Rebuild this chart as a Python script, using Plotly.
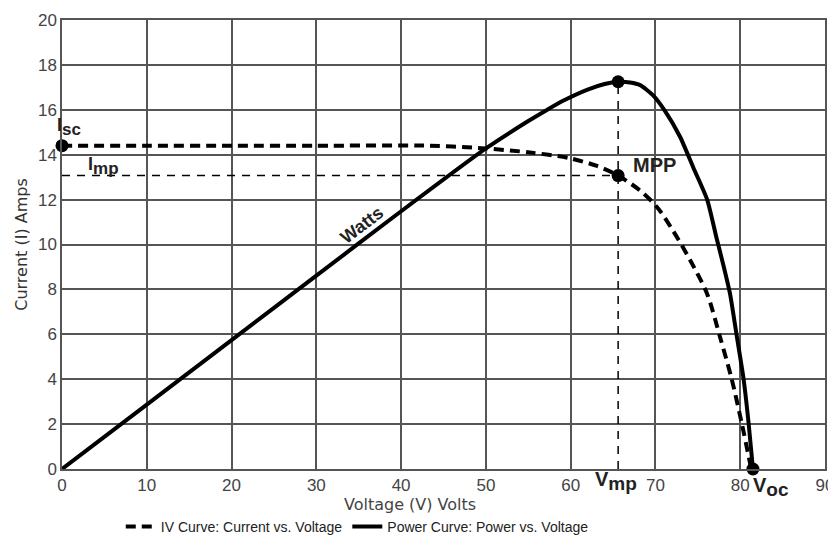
import plotly.graph_objects as go

# IV curve (current vs voltage)
iv_v = [0, 10, 20, 30, 43.4, 49.9, 55.2, 59.8, 63.1, 65.6, 68.2, 70.2, 72.1, 74.1, 76.1, 77.6, 79.0, 80.2, 81.3]
iv_i = [14.4, 14.4, 14.4, 14.4, 14.4, 14.28, 14.1, 13.85, 13.5, 13.07, 12.4, 11.66, 10.6, 9.3, 7.8, 5.9, 4.0, 2.0, 0.0]

# Power curve (scaled to the current axis)
pw_v = [0, 10, 20, 30, 40, 50, 55, 57, 59.1, 62, 64, 65.6, 67, 68.2, 69.7, 71.1, 72.9, 74.5, 76.1, 77.2, 78.0, 78.8, 79.6, 80.4, 81.0, 81.5]
pw_p = [0, 2.87, 5.74, 8.61, 11.48, 14.28, 15.5, 15.95, 16.4, 16.9, 17.15, 17.25, 17.22, 17.1, 16.65, 15.96, 14.8, 13.4, 12.0, 10.3, 9.1, 7.8, 5.9, 4.0, 2.0, 0.0]

# key points
isc_v, isc_i = 0, 14.4
vmp, imp = 65.6, 13.07
pmax = 17.25
voc = 81.5

x_ticks = [0, 10, 20, 30, 40, 50, 60, 70, 80, 90]
y_ticks = [0, 2, 4, 6, 8, 10, 12, 14, 16, 18, 20]

fig = go.Figure()

# Imp horizontal guide and Vmp vertical guide
fig.add_trace(go.Scatter(x=[0, vmp], y=[imp, imp], mode="lines",
                         line=dict(color="black", width=1.5, dash="8px,7px"),
                         showlegend=False, hoverinfo="skip"))
fig.add_trace(go.Scatter(x=[vmp, vmp], y=[0, pmax], mode="lines",
                         line=dict(color="black", width=1.5, dash="8px,7px"),
                         showlegend=False, hoverinfo="skip"))

fig.add_trace(go.Scatter(x=iv_v, y=iv_i, mode="lines", name="IV Curve: Current vs. Voltage",
                         line=dict(color="black", width=4, dash="10px,6px", shape="spline", smoothing=0.8)))
fig.add_trace(go.Scatter(x=pw_v, y=pw_p, mode="lines", name="Power Curve: Power vs. Voltage",
                         line=dict(color="black", width=4, shape="spline", smoothing=0.6)))

fig.add_trace(go.Scatter(x=[isc_v, vmp, vmp, voc], y=[isc_i, imp, pmax, 0], mode="markers",
                         marker=dict(color="black", size=13), showlegend=False,
                         cliponaxis=False, hoverinfo="skip"))

FAM = "Liberation Sans, Arial, sans-serif"
ann_font = dict(family=FAM, size=18, color="#222")
big_font = dict(family=FAM, size=20, color="#222")
SUB = "<sub><span style='font-size:17px'>{}</span></sub>"
SUB_BIG = "<sub><span style='font-size:19px'>{}</span></sub>"
fig.add_annotation(x=0.8, y=15.25, text="<b>I" + SUB.format("sc") + "</b>", showarrow=False, font=ann_font)
fig.add_annotation(x=4.9, y=13.5, text="<b>I" + SUB.format("mp") + "</b>", showarrow=False, font=ann_font)
fig.add_annotation(x=69.9, y=13.52, text="<b>MPP</b>", showarrow=False, font=big_font)
fig.add_annotation(x=35.4, y=10.85, text="<b>Watts</b>", showarrow=False, textangle=-37,
                   font=dict(family=FAM, size=18, color="#222"))
fig.add_annotation(x=65.3, y=0.006, yref="paper", text="<b>V" + SUB_BIG.format("mp") + "</b>", showarrow=False,
                   font=big_font, yanchor="top")
fig.add_annotation(x=83.6, y=-0.006, yref="paper", text="<b>V" + SUB_BIG.format("oc") + "</b>", showarrow=False,
                   font=big_font, yanchor="top")

# x-axis title (sits left of the plot centre in the reference)
fig.add_annotation(x=0.456, y=-0.08, xref="paper", yref="paper", yanchor="middle",
                   text="Voltage (V) Volts", showarrow=False,
                   font=dict(family="DejaVu Sans, sans-serif", size=16, color="#444"))

axis_common = dict(showgrid=True, gridcolor="#555", gridwidth=1.5, showline=True, linecolor="#555",
                   linewidth=1.5, mirror=True, zeroline=False, ticks="", automargin=False,
                   tickfont=dict(family=FAM, size=17, color="#444"))

fig.update_xaxes(range=[0, 90], tickvals=x_ticks, **axis_common)
fig.update_yaxes(range=[0, 20], tickvals=y_ticks, **axis_common,
                 title=dict(text="Current (I) Amps", standoff=6,
                            font=dict(family="DejaVu Sans, sans-serif", size=16, color="#333")))

# the page body adds an 8px offset; the figure extends past the window bottom so that
# the legend's margin push leaves the plot area where the reference has it
fig.update_layout(
    width=828, height=549,
    margin=dict(l=54, r=11, t=12, b=88),
    plot_bgcolor="white", paper_bgcolor="white",
    legend=dict(orientation="h", x=0.387, xanchor="center", y=-0.129, yanchor="middle",
                font=dict(family="Liberation Sans Narrow, sans-serif", size=14, color="#222"),
                itemwidth=30),
)

fig.write_html("out.html")
